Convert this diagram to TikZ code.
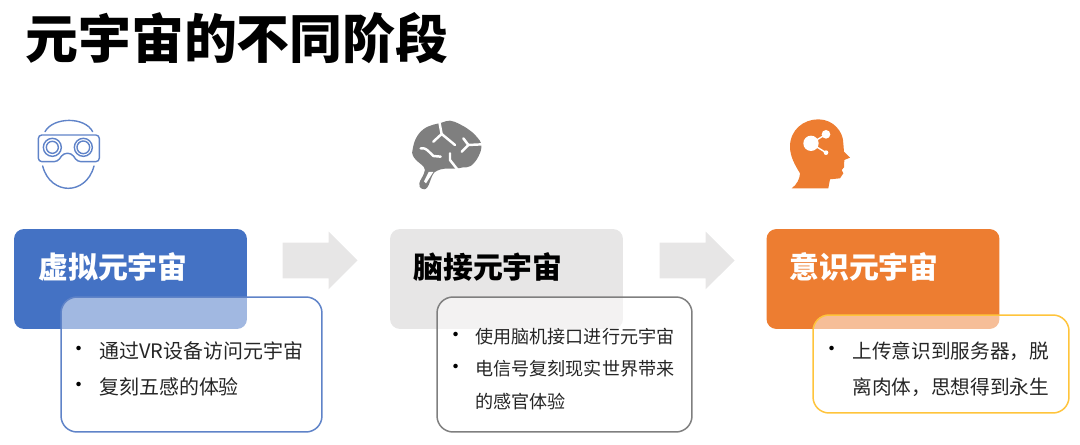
\documentclass[tikz,border=0pt]{standalone}
\usepackage{fontspec}
\setmainfont{Noto Sans CJK SC}
\usetikzlibrary{shapes.arrows}
\definecolor{myblue}{HTML}{4472C4}
\definecolor{myline}{HTML}{5F83C8}
\definecolor{mygray}{HTML}{E7E6E6}
\definecolor{mydark}{HTML}{7F7F7F}
\definecolor{myorange}{HTML}{ED7D31}
\definecolor{myyellow}{HTML}{FFC43C}
\definecolor{mytext}{HTML}{262626}
\begin{document}
\begin{tikzpicture}[
        x=0.02cm,
        y=-0.02cm
    ]
    \tikzset{
        headbox/.style = {rectangle, rounded corners=0.2cm, minimum width=4.66cm, minimum height=2cm, inner sep=0pt},
        textbox/.style = {rectangle, rounded corners=0.32cm, draw=#1, line width=0.85pt, fill=white, fill opacity=0.5, inner sep=0pt},
        heading/.style = {anchor=west, inner sep=0pt, font=\fontsize{17pt}{19pt}\selectfont\bfseries},
        item/.style = {anchor=west, inner sep=0pt, text=mytext, font=\fontsize{11.35pt}{13pt}\selectfont},
        itemb/.style = {item, font=\fontsize{10.3pt}{12pt}\selectfont},
        itemc/.style = {item, font=\fontsize{11.2pt}{13pt}\selectfont},
        dot/.style = {anchor=center, inner sep=0pt, text=black, font=\fontsize{12pt}{13pt}\selectfont},
        nextarrow/.style = {single arrow, anchor=tip, fill=mygray, inner xsep=0pt, inner ysep=0.35cm, minimum height=1.5cm, single arrow head extend=0.22cm, single arrow head indent=0cm},
        iconline/.style = {draw=myline, line width=0.8pt, line cap=round, line join=round},
        crack/.style = {draw=white, line width=1.4pt, line cap=round, line join=round},
    }
    \useasboundingbox (0,0) rectangle (1080,445);
    \node[anchor=west,inner sep=0pt,font=\fontsize{30.1pt}{32pt}\selectfont\bfseries] at (25,38) (title) {元宇宙的不同阶段};
    %
    \begin{scope}[shift={(20,110)},x=0.00667cm,y=-0.00667cm]
    \draw[iconline] (75,65) .. controls (100,20) and (195,20) .. (218,65);
    \draw[iconline] (68,168) .. controls (80,215) and (115,235) .. (145,235) .. controls (175,235) and (210,215) .. (222,168);
    \draw[iconline,rounded corners=2pt] (55,75) -- (238,75) -- (238,155) -- (172,155) -- (155,130) -- (130,130) -- (113,155) -- (55,155) -- cycle;
    \draw[iconline] (97,112) circle (18);
    \draw[iconline] (97,112) circle (27);
    \draw[iconline] (190,112) circle (19);
    \draw[iconline] (190,112) circle (27);
    \end{scope}
    %
    \begin{scope}[shift={(400,110)},x=0.00667cm,y=-0.00667cm]
    \fill[mydark] plot[smooth cycle,tension=0.7] coordinates {(38,118) (48,85) (70,58) (100,44) (125,38) (150,32) (178,42) (205,58) (228,78) (244,105) (235,140) (212,168) (190,172) (165,176) (135,176) (112,182) (98,195) (82,232) (65,236) (58,220) (72,190) (72,172) (50,152) (38,135)};
    \fill[white] (86,186) -- (100,186) -- (78,220) -- (72,214) -- cycle;
    \draw[crack] (118,36) -- (125,72) -- (100,95);
    \draw[crack] (125,72) -- (165,105);
    \draw[crack] (62,115) .. controls (80,112) and (85,125) .. (100,138) -- (122,140);
    \draw[crack] (190,85) -- (205,105) -- (185,125);
    \draw[crack] (205,105) -- (246,103);
    \draw[crack] (150,130) -- (150,150) -- (172,178);
    \end{scope}
    %
    \begin{scope}[shift={(775,110)},x=0.00667cm,y=-0.00667cm]
    \fill[myorange] (50,235) .. controls (65,225) and (75,205) .. (75,190) .. controls (60,165) and (45,140) .. (45,110) .. controls (45,60) and (85,28) .. (130,28) .. controls (175,28) and (205,65) .. (205,100) -- (207,125) -- (225,143) -- (208,150) -- (207,172) -- (200,180) -- (205,190) -- (195,205) -- (165,208) -- (160,235) -- cycle;
    \fill[white] (108,100) circle (23);
    \fill[white] (153,73) circle (13);
    \fill[white] (153,128) circle (7);
    \draw[white,line width=0.8pt] (108,100) -- (153,73);
    \draw[white,line width=0.8pt] (108,100) -- (153,128);
    \end{scope}
    %
    \node[headbox,fill=myblue] at (130.5,279) (vrbox) {};
    \node[headbox,fill=mygray] at (506.5,279) (brainbox) {};
    \node[headbox,fill=myorange] at (883,279) (mindbox) {};
    \node[nextarrow] at (358,260.5) (arrowa) {};
    \node[nextarrow] at (735,260.5) (arrowb) {};
    %
    \node[textbox=myline,minimum width=5.22cm,minimum height=2.7cm] at (191.5,364.5) (vrtext) {};
    \node[textbox=mydark,minimum width=5.1cm,minimum height=2.7cm] at (564.5,364.5) (braintext) {};
    \node[textbox=myyellow,minimum width=5.12cm,minimum height=1.96cm] at (941,364) (mindtext) {};
    %
    \node[heading,text=white] at (38,267) (vrhead) {虚拟元宇宙};
    \node[heading,text=black] at (413,267) (brainhead) {脑接元宇宙};
    \node[heading,text=white] at (789,267) (mindhead) {意识元宇宙};
    %
    \node[dot] at (79,351) (dota) {•};
    \node[item] at (99,351) (vrone) {通过VR设备访问元宇宙};
    \node[dot] at (79,387) (dotb) {•};
    \node[item] at (99,387) (vrtwo) {复刻五感的体验};
    %
    \node[dot] at (456,337) (dotc) {•};
    \node[itemb] at (475,337) (brainone) {使用脑机接口进行元宇宙};
    \node[dot] at (456,369) (dotd) {•};
    \node[itemb] at (475,369) (braintwo) {电信号复刻现实世界带来};
    \node[itemb] at (475,402) (brainthree) {的感官体验};
    %
    \node[dot] at (832,351) (dote) {•};
    \node[itemc] at (852,351) (mindone) {上传意识到服务器，脱};
    \node[itemc] at (852,387) (mindtwo) {离肉体，思想得到永生};
    \end{tikzpicture}
\end{document}
